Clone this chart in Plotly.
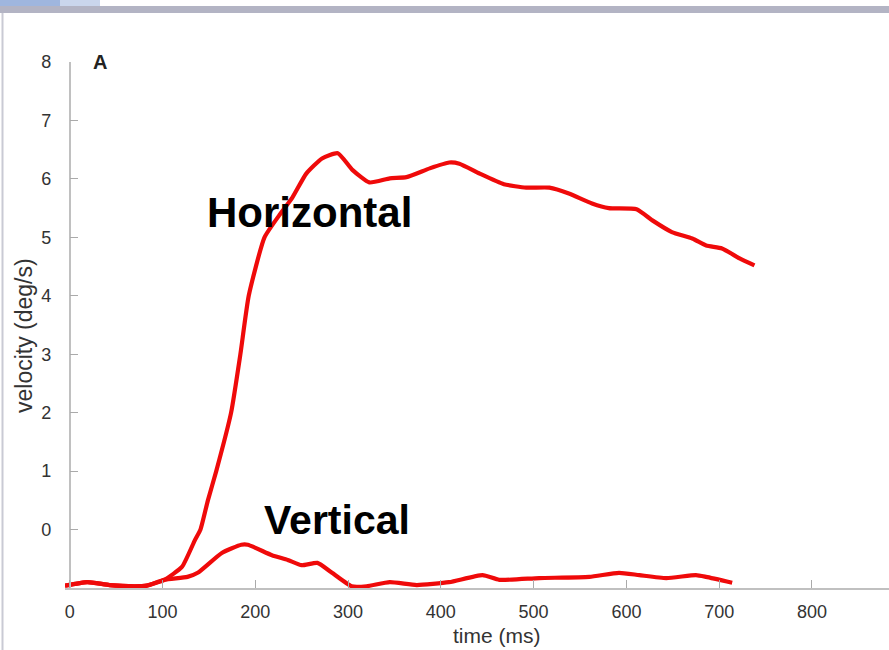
import plotly.graph_objects as go

# Data
h_time = [-5, 19, 43, 70, 83, 102, 121, 135, 141, 149, 158, 174, 184, 193, 210, 226, 240,
          255, 272, 289, 305, 323, 345, 363, 388, 409, 420, 442, 468, 492, 517, 538, 563,
          581, 611, 628, 649, 671, 686, 703, 722, 738]
h_vel = [-0.96, -0.90, -0.95, -0.97, -0.96, -0.86, -0.64, -0.18, 0.0, 0.5, 1.0, 2.0, 3.0,
         4.0, 5.0, 5.38, 5.68, 6.09, 6.35, 6.44, 6.15, 5.94, 6.01, 6.03, 6.18, 6.28, 6.26,
         6.09, 5.91, 5.85, 5.85, 5.75, 5.58, 5.50, 5.48, 5.29, 5.09, 4.98, 4.86, 4.81, 4.64, 4.52]

v_time = [-5, 19, 43, 70, 83, 102, 127, 138, 164, 185, 192, 218, 235, 250, 267, 282, 304,
          320, 345, 374, 409, 445, 463, 506, 560, 592, 614, 643, 675, 686, 714]
v_vel = [-0.96, -0.90, -0.95, -0.97, -0.96, -0.86, -0.81, -0.74, -0.40, -0.26, -0.26, -0.44,
         -0.52, -0.61, -0.57, -0.73, -0.97, -0.97, -0.90, -0.95, -0.90, -0.78, -0.86, -0.83,
         -0.81, -0.74, -0.78, -0.83, -0.78, -0.81, -0.91]

x_ticks = [0, 100, 200, 300, 400, 500, 600, 700, 800]
y_ticks = [0, 1, 2, 3, 4, 5, 6, 7, 8]

RED = "#ef0a0a"
FONT = "Liberation Sans, Arial, sans-serif"
TXT = "#333333"

# Layout geometry (pixels)
W, H = 889, 650
L, R, T, B = 65, 0, 62, 62
XR = [-5, 883]
YR = [-1, 8]
pw = W - L - R
ph = H - T - B


def px(x):
    return (x - L) / pw


def py(y):
    return (H - B - y) / ph


fig = go.Figure()
fig.add_trace(go.Scatter(x=h_time, y=h_vel, mode="lines", name="Horizontal",
                         line=dict(color=RED, width=4.2, shape="spline", smoothing=0.5)))
fig.add_trace(go.Scatter(x=v_time, y=v_vel, mode="lines", name="Vertical",
                         line=dict(color=RED, width=4.2, shape="spline", smoothing=0.5)))

axis_pos = (0 - XR[0]) / (XR[1] - XR[0])

fig.update_layout(
    width=W, height=H,
    margin=dict(l=L, r=R, t=T, b=B, pad=0),
    paper_bgcolor="white", plot_bgcolor="white",
    showlegend=False,
    font=dict(family=FONT, color=TXT),
    xaxis=dict(range=XR, tickvals=x_ticks, ticktext=[str(v) for v in x_ticks],
               ticks="inside", ticklen=8, tickwidth=1, tickcolor="#aaaaaa",
               showline=True, linecolor="#c0c0c0", linewidth=1.5,
               showgrid=False, zeroline=False,
               tickfont=dict(size=18, color=TXT), ticklabelstandoff=7),
    yaxis=dict(range=YR, tickvals=y_ticks, ticktext=[str(v) for v in y_ticks],
               anchor="free", position=axis_pos,
               ticks="inside", ticklen=8, tickwidth=1, tickcolor="#aaaaaa",
               showline=True, linecolor="#c0c0c0", linewidth=1.5,
               showgrid=False, zeroline=False,
               tickfont=dict(size=18, color=TXT), ticklabelstandoff=14),
)

annotations = [
    dict(text="velocity (deg/s)", x=px(24), y=py(336), textangle=-90,
         font=dict(size=23, color=TXT)),
    dict(text="time (ms)", x=px(497), y=py(635), font=dict(size=21, color=TXT)),
    dict(text="<b>A</b>", x=px(100), y=py(62), font=dict(size=20, color="#222222")),
    dict(text="<b>Horizontal</b>", x=px(309), y=py(213), font=dict(size=42, color="black")),
    dict(text="<b>Vertical</b>", x=px(337), y=py(520), font=dict(size=41, color="black")),
]
for a in annotations:
    a.update(xref="paper", yref="paper", showarrow=False, xanchor="center", yanchor="middle")
fig.update_layout(annotations=annotations)

# Slide frame decorations
shapes = [
    dict(type="rect", x0=px(0), x1=px(889), y0=py(13), y1=py(6),
         fillcolor="#b3b4c4", line=dict(width=0)),
    dict(type="rect", x0=px(0), x1=px(60), y0=py(6), y1=py(0),
         fillcolor="#9fb6de", line=dict(width=0)),
    dict(type="rect", x0=px(60), x1=px(100), y0=py(6), y1=py(0),
         fillcolor="#cad6ec", line=dict(width=0)),
    dict(type="rect", x0=px(1.5), x1=px(3.5), y0=py(650), y1=py(13),
         fillcolor="#c9cad4", line=dict(width=0)),
]
for s in shapes:
    s.update(xref="paper", yref="paper", layer="above")
fig.update_layout(shapes=shapes)

fig.write_html("out.html")
